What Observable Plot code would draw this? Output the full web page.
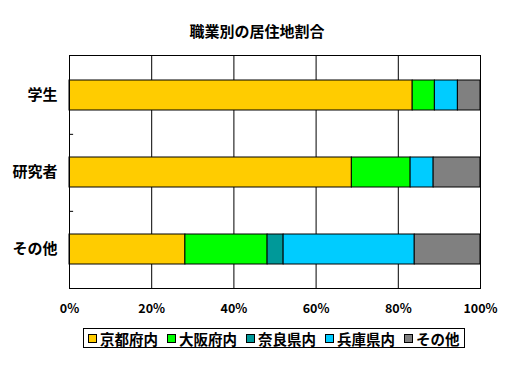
<!DOCTYPE html>
<html><head><meta charset="utf-8">
<script src="https://cdn.jsdelivr.net/npm/d3@7"></script>
<script src="https://cdn.jsdelivr.net/npm/@observablehq/plot@0.6"></script>
<style>
body{margin:0;background:#fff;font-family:"Noto Sans CJK JP","Noto Sans",sans-serif;}
#wrap{position:relative;width:510px;height:365px;overflow:hidden;}
#title{box-sizing:border-box;height:45px;padding-top:21px;padding-left:4px;line-height:20px;text-align:center;font-weight:bold;font-size:15px;color:#000;}
#legend{position:absolute;left:83px;top:328px;height:20px;box-sizing:border-box;border:1px solid #000;display:flex;align-items:center;padding:0 4px 0 4px;font-weight:bold;font-size:14.5px;color:#000;white-space:nowrap;}
#legend .item{display:flex;align-items:center;margin-right:9px;}
#legend .item:last-child{margin-right:0;}
#legend .sw{width:7px;height:7px;border:1px solid #000;margin-right:3px;}
</style></head><body>
<div id="wrap">
<div id="title">職業別の居住地割合</div>
<div id="chart"></div>
<div id="legend"></div>
</div>
<script>
const categories = ["学生", "研究者", "その他"];
const seriesNames = ["京都府内", "大阪府内", "奈良県内", "兵庫県内", "その他"];
const seriesColors = ["#FFCC00", "#00FF00", "#009999", "#00CCFF", "#808080"];
const valuesGakusei = [83.5, 5.4, 0, 5.6, 5.5];
const valuesKenkyusha = [68.7, 14.3, 0, 5.6, 11.4];
const valuesSonota = [28.2, 20.0, 3.9, 31.9, 16.0];
const xTicks = [0, 20, 40, 60, 80, 100];

const valueRows = [valuesGakusei, valuesKenkyusha, valuesSonota];
const table = [];
categories.forEach((c, i) => {
  seriesNames.forEach((s, j) => {
    if (valueRows[i][j] > 0) table.push({cat: c, series: s, value: valueRows[i][j]});
  });
});

const W = 510, H = 273, mT = 10, mB = 30, mL = 69, mR = 30;
const step = (H - mT - mB) / categories.length;
const font = '"Noto Sans CJK JP","Noto Sans",sans-serif';

const plot = Plot.plot({
  width: W, height: H,
  marginTop: mT, marginBottom: mB, marginLeft: mL, marginRight: mR,
  style: {fontFamily: font, color: "#000", background: "#fff", overflow: "visible"},
  x: {domain: [0, 100]},
  y: {domain: categories, paddingInner: 0.614, paddingOuter: 0.307},
  color: {domain: seriesNames, range: seriesColors},
  marks: [
    Plot.ruleX(xTicks, {stroke: "#000", strokeWidth: 1}),
    Plot.ruleY(categories.slice(0, categories.length - 1), {x1: 0, x2: 1, dy: step / 2, stroke: "#000"}),
    Plot.barX(table, {x: "value", y: "cat", fill: "series", stroke: "#000", strokeWidth: 1, order: seriesNames}),
    Plot.frame({stroke: "#000", strokeWidth: 1}),
    Plot.axisX({ticks: xTicks, tickFormat: d => d + "%", tickSize: 0, tickPadding: 16, fontSize: 12.5, fontWeight: "bold", label: null}),
    Plot.axisY({tickSize: 0, tickPadding: 12, fontSize: 15, fontWeight: "bold", label: null})
  ]
});
document.getElementById("chart").appendChild(plot);

const legend = document.getElementById("legend");
seriesNames.forEach((s, i) => {
  const item = document.createElement("div");
  item.className = "item";
  const sw = document.createElement("div");
  sw.className = "sw";
  sw.style.background = seriesColors[i];
  const t = document.createElement("span");
  t.textContent = s;
  item.appendChild(sw); item.appendChild(t);
  legend.appendChild(item);
});
</script>
</body></html>
